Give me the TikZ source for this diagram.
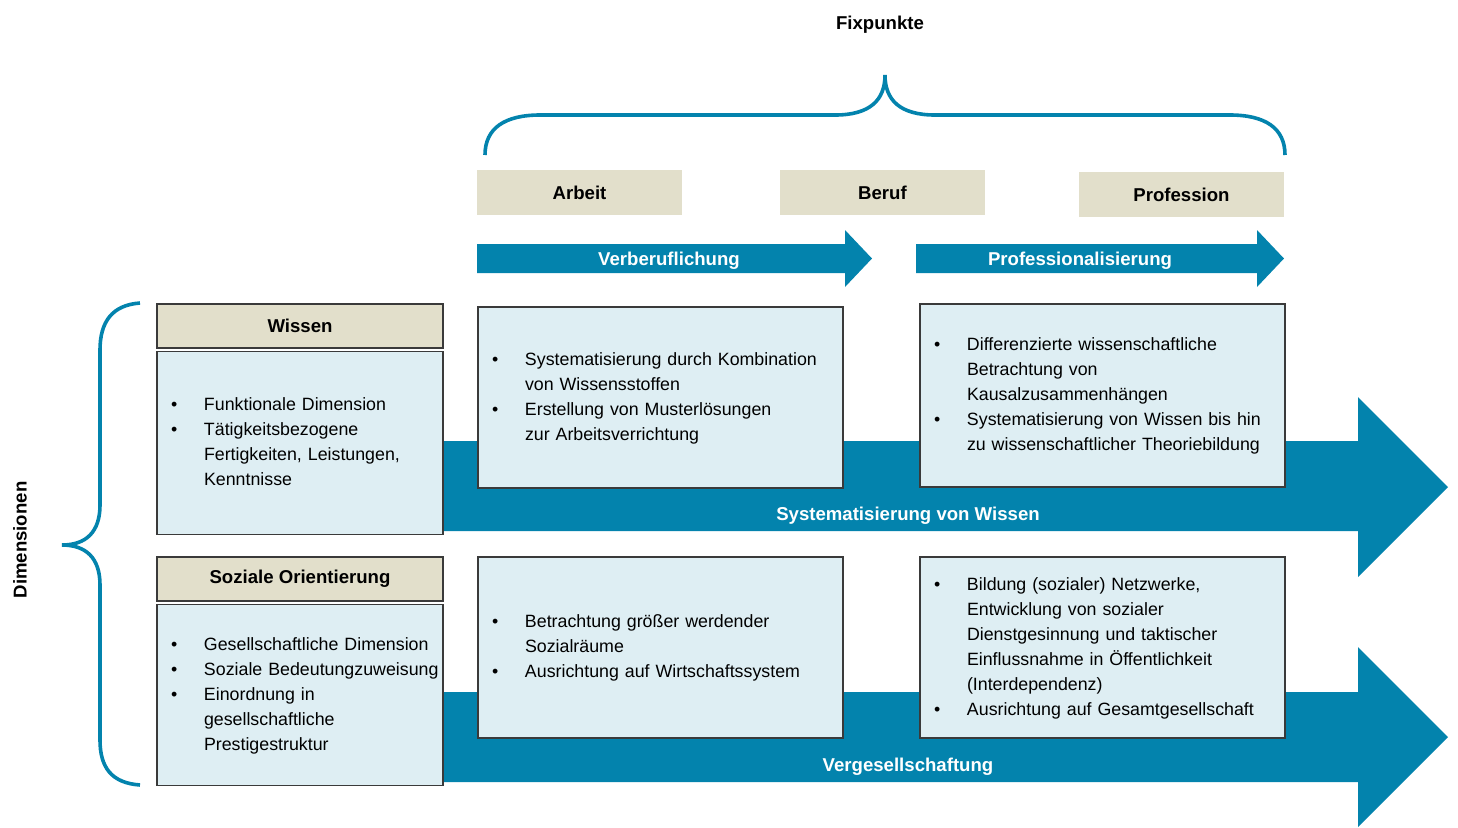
\documentclass[tikz,border=0pt]{standalone}
\usepackage{fontspec}
\setmainfont{Liberation Sans}
\usepackage{xcolor}
\usetikzlibrary{positioning}

\definecolor{fixbeige}{HTML}{E2DFCB}
\definecolor{cellblue}{HTML}{DEEEF3}
\definecolor{flowblue}{HTML}{0383AD}
\definecolor{cellline}{HTML}{3A3A3A}

\newcommand{\hdfont}{\fontsize{9.3}{11}\selectfont\bfseries}
\newcommand{\txtfont}{\fontsize{8.9}{12.5}\selectfont}
\newcommand{\bl}{\textbullet}
\newcommand{\blist}[1]{\begin{tabular}{@{}p{16.5pt}@{}l@{}}#1\end{tabular}}

\begin{document}
\begin{tikzpicture}[x=0.5pt, y=-0.5pt,
    fix/.style={fill=fixbeige, minimum width=102.5pt, minimum height=22.5pt, inner sep=0pt, font=\hdfont},
    dimhead/.style={fill=fixbeige, draw=cellline, line width=0.6pt, minimum width=143pt, minimum height=22pt, inner sep=0pt, font=\hdfont},
    dimbody/.style={fill=cellblue, draw=cellline, line width=0.6pt, text width=129pt, inner xsep=7pt, inner ysep=0pt, align=left, font=\txtfont},
    cell/.style={fill=cellblue, draw=cellline, line width=0.6pt, text width=168.5pt, inner xsep=7pt, inner ysep=0pt, minimum height=90.5pt, align=left, font=\txtfont},
    brace/.style={draw=flowblue, line width=1.8pt},
    flow/.style={fill=flowblue},
    flowlabel/.style={text=white, font=\hdfont}]

    \useasboundingbox (0,0) rectangle (1458,827);

    % Title and brace over the fixpoints
    \node[font=\hdfont] (fixpunkte) at (880,25) {Fixpunkte};
    \draw[brace] (485,155) .. controls (485,128) and (505,115) .. (540,115) -- (835,115)
        .. controls (870,115) and (885,100) .. (885,75)
        .. controls (885,100) and (900,115) .. (935,115) -- (1230,115)
        .. controls (1265,115) and (1285,128) .. (1285,155);

    % Fixpoints
    \foreach \name/\x/\y in {Arbeit/579.5/192.5, Beruf/882.5/192.5, Profession/1181.5/194.5} {
        \node[fix] (\name) at (\x,\y) {\name};
    }

    % Small arrows between the fixpoints
    \fill[flow] (477,244) -- (845,244) -- (845,230) -- (872,258.5) -- (845,287) -- (845,273) -- (477,273) -- cycle;
    \node[flowlabel] (verberuf) at (669,261) {Verberuflichung};
    \fill[flow] (916,244) -- (1257,244) -- (1257,230) -- (1284,258.5) -- (1257,287) -- (1257,273) -- (916,273) -- cycle;
    \node[flowlabel] (profess) at (1080,261) {Professionalisierung};

    % Big arrows
    \fill[flow] (443,441) -- (1358,441) -- (1358,397) -- (1448,487) -- (1358,577) -- (1358,531) -- (443,531) -- cycle;
    \fill[flow] (443,692) -- (1358,692) -- (1358,647) -- (1448,737) -- (1358,827) -- (1358,782) -- (443,782) -- cycle;
    \node[flowlabel] (syswissen) at (908,516) {Systematisierung von Wissen};
    \node[flowlabel] (vergesell) at (908,767) {Vergesellschaftung};

    % Brace over the dimensions
    \draw[brace] (140,303) .. controls (112,305) and (100,322) .. (100,350) -- (100,505)
        .. controls (100,532) and (86,545) .. (62,545)
        .. controls (86,545) and (100,558) .. (100,585) -- (100,740)
        .. controls (100,768) and (112,783) .. (140,785);
    \node[font=\hdfont, rotate=90] (dimensionen) at (20,540) {Dimensionen};

    % Dimensions
    \node[dimhead] (wissen) at (300,326) {Wissen};
    \node[dimbody, minimum height=91.5pt, below=1.2pt of wissen] (wissenbody) {\blist{
        \bl & Funktionale Dimension\\
        \bl & Tätigkeitsbezogene\\
            & Fertigkeiten, Leistungen,\\
            & Kenntnisse}};
    \node[dimhead] (sozial) at (300,579) {Soziale Orientierung};
    \node[dimbody, minimum height=90.5pt, below=1.2pt of sozial] (sozialbody) {\blist{
        \bl & Gesellschaftliche Dimension\\
        \bl & Soziale Bedeutungzuweisung\\
        \bl & Einordnung in\\
            & gesellschaftliche\\
            & Prestigestruktur}};

    % Cells
    \node[cell] (wissenberuf) at (660.5,397.5) {\blist{
        \bl & Systematisierung durch Kombination\\
            & von Wissensstoffen\\
        \bl & Erstellung von Musterlösungen\\
            & zur Arbeitsverrichtung}};
    \node[cell, minimum height=91.5pt] (wissenprof) at (1102.5,395.5) {\blist{
        \bl & Differenzierte wissenschaftliche\\
            & Betrachtung von\\
            & Kausalzusammenhängen\\
        \bl & Systematisierung von Wissen bis hin\\
            & zu wissenschaftlicher Theoriebildung}};
    \node[cell] (sozialberuf) at (660.5,647.5) {\blist{
        \bl & Betrachtung größer werdender\\
            & Sozialräume\\
        \bl & Ausrichtung auf Wirtschaftssystem}};
    \node[cell] (sozialprof) at (1102.5,647.5) {\blist{
        \bl & Bildung (sozialer) Netzwerke,\\
            & Entwicklung von sozialer\\
            & Dienstgesinnung und taktischer\\
            & Einflussnahme in Öffentlichkeit\\
            & (Interdependenz)\\
        \bl & Ausrichtung auf Gesamtgesellschaft}};

\end{tikzpicture}
\end{document}
